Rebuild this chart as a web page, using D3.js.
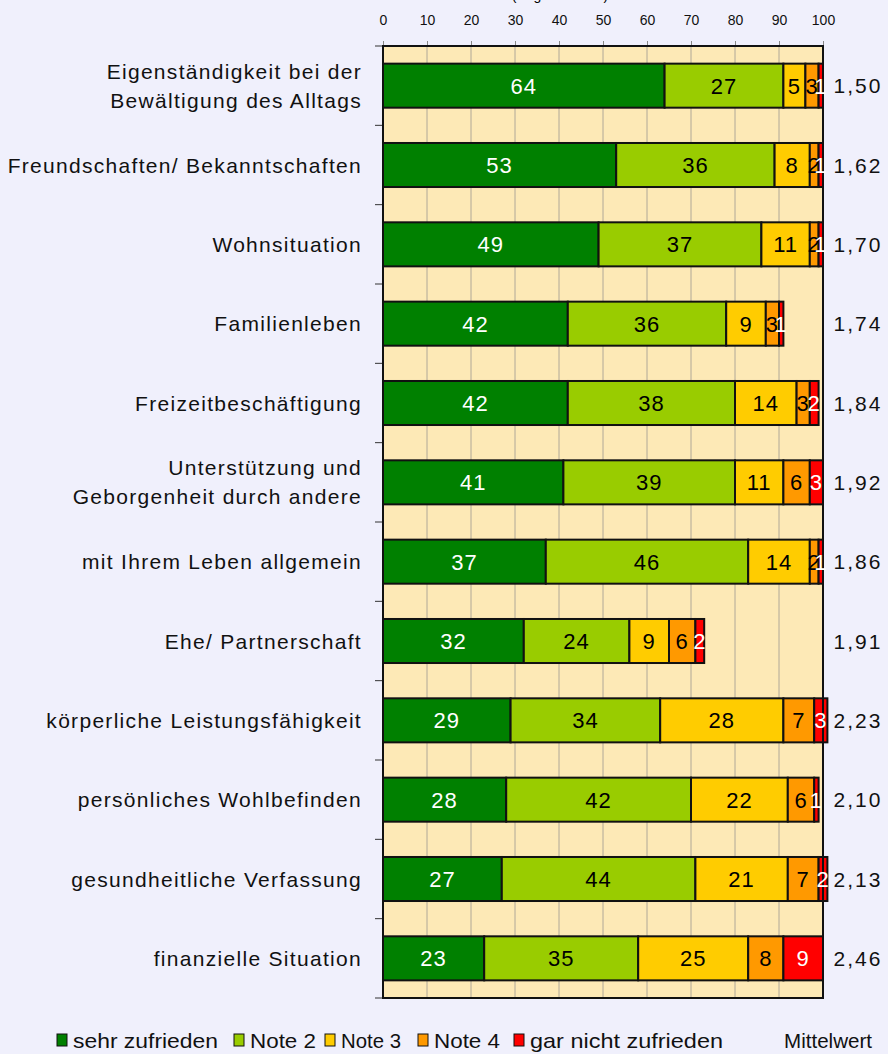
<!DOCTYPE html>
<html>
<head>
<meta charset="utf-8">
<script src="https://cdn.jsdelivr.net/npm/d3@7"></script>
<style>
  body { margin: 0; background: #f0f0fc; }
  svg { display: block; font-family: "Liberation Sans", Arial, sans-serif; }
</style>
</head>
<body>
<svg width="888" height="1054"></svg>
<script>
// data
var categories = [
  "Eigenständigkeit bei der|Bewältigung des Alltags",
  "Freundschaften/ Bekanntschaften",
  "Wohnsituation",
  "Familienleben",
  "Freizeitbeschäftigung",
  "Unterstützung und|Geborgenheit durch andere",
  "mit Ihrem Leben allgemein",
  "Ehe/ Partnerschaft",
  "körperliche Leistungsfähigkeit",
  "persönliches Wohlbefinden",
  "gesundheitliche Verfassung",
  "finanzielle Situation"
];
var sehrZufrieden = [64, 53, 49, 42, 42, 41, 37, 32, 29, 28, 27, 23];
var note2         = [27, 36, 37, 36, 38, 39, 46, 24, 34, 42, 44, 35];
var note3         = [5, 8, 11, 9, 14, 11, 14, 9, 28, 22, 21, 25];
var note4         = [3, 2, 2, 3, 3, 6, 2, 6, 7, 6, 7, 8];
var garNicht      = [1, 1, 1, 1, 2, 3, 1, 2, 3, 1, 2, 9];
var mittelwert    = ["1,50", "1,62", "1,70", "1,74", "1,84", "1,92", "1,86", "1,91", "2,23", "2,10", "2,13", "2,46"];
var seriesNames = ["sehr zufrieden", "Note 2", "Note 3", "Note 4", "gar nicht zufrieden"];
var seriesColors = ["#008000", "#99cc00", "#ffcc00", "#ff9900", "#ff0000"];
var labelColors = ["white", "black", "black", "black", "white"];
var xTicks = [0, 10, 20, 30, 40, 50, 60, 70, 80, 90, 100];

var svg = d3.select("svg");
var pLeft = 383, pRight = 823, pTop = 46, pBottom = 998;

var x = d3.scaleLinear().domain([0, 100]).range([pLeft, pRight]);
var y = d3.scaleBand().domain(d3.range(categories.length)).range([pTop, pBottom])
  .paddingInner(0.445).paddingOuter(0.2225);

var table = categories.map(function(c, i) {
  return { i: i, v: [sehrZufrieden[i], note2[i], note3[i], note4[i], garNicht[i]] };
});
var stack = d3.stack().keys([0, 1, 2, 3, 4]).value(function(d, k) { return d.v[k]; });
var layers = stack(table);

// plot background
svg.append("rect")
  .attr("x", pLeft).attr("y", pTop)
  .attr("width", pRight - pLeft).attr("height", pBottom - pTop)
  .attr("fill", "#fde9b6");

// grid
svg.append("g").selectAll("line")
  .data(xTicks.slice(1, -1))
  .enter().append("line")
  .attr("x1", d => x(d)).attr("x2", d => x(d))
  .attr("y1", pTop).attr("y2", pBottom)
  .attr("stroke", "#b0a898").attr("stroke-width", 1);

// top axis
var xAxis = svg.append("g")
  .attr("transform", "translate(0," + pTop + ")")
  .call(d3.axisTop(x).tickValues(xTicks).tickSize(5).tickPadding(16));
xAxis.select(".domain").remove();
xAxis.selectAll("line").attr("stroke", "#888");
xAxis.selectAll("text").attr("font-size", 14).attr("fill", "#111")
  .attr("font-family", "Liberation Sans, Arial, sans-serif");

// cut-off title at the very top
svg.append("text").attr("x", 560).attr("y", 0)
  .attr("text-anchor", "middle").attr("font-size", 14).text("(Angaben in %)");

// left ticks between categories
var bounds = d3.range(categories.length + 1).map(function(i) { return pTop + i * y.step(); });
svg.append("g").selectAll("line")
  .data(bounds)
  .enter().append("line")
  .attr("x1", pLeft - 8).attr("x2", pLeft)
  .attr("y1", d => d).attr("y2", d => d)
  .attr("stroke", "#333");

// bars
var segs = svg.append("g").selectAll("g")
  .data(layers)
  .enter().append("g");

function parts(layer) { return layer.map(function(d) { return { k: layer.key, d: d }; }); }

segs.selectAll("rect")
  .data(parts)
  .enter().append("rect")
  .attr("x", s => x(s.d[0]))
  .attr("y", s => y(s.d.data.i))
  .attr("width", s => x(s.d[1]) - x(s.d[0]))
  .attr("height", y.bandwidth())
  .attr("fill", s => seriesColors[s.k])
  .attr("stroke", "#111").attr("stroke-width", 2);

// frame
svg.append("rect")
  .attr("x", pLeft).attr("y", pTop)
  .attr("width", pRight - pLeft).attr("height", pBottom - pTop)
  .attr("fill", "none").attr("stroke", "#111").attr("stroke-width", 2);

// segment labels
svg.append("g").selectAll("g")
  .data(layers)
  .enter().append("g")
  .selectAll("text")
  .data(parts)
  .enter().append("text")
  .attr("x", s => (x(s.d[0]) + x(s.d[1])) / 2)
  .attr("y", s => y(s.d.data.i) + y.bandwidth() / 2)
  .attr("dy", "0.36em")
  .attr("text-anchor", "middle")
  .attr("font-size", 22)
  .attr("letter-spacing", 1)
  .attr("fill", s => labelColors[s.k])
  .text(s => s.d.data.v[s.k]);

// category labels
var catText = svg.append("g").selectAll("text")
  .data(categories)
  .enter().append("text")
  .attr("text-anchor", "end")
  .attr("font-size", 21)
  .attr("letter-spacing", 1.3)
  .attr("fill", "#111")
  .attr("transform", (d, i) => "translate(362," + (y(i) + y.bandwidth() / 2) + ")");
catText.each(function(d) {
  var lines = d.split("|");
  var t = d3.select(this);
  lines.forEach(function(l, j) {
    t.append("tspan").attr("x", 0)
      .attr("y", (j - (lines.length - 1) / 2) * 29)
      .attr("dy", "0.36em")
      .text(l);
  });
});

// Mittelwert
svg.append("g").selectAll("text")
  .data(mittelwert)
  .enter().append("text")
  .attr("x", 858)
  .attr("y", (d, i) => y(i) + y.bandwidth() / 2)
  .attr("dy", "0.36em")
  .attr("text-anchor", "middle")
  .attr("font-size", 21)
  .attr("letter-spacing", 2)
  .attr("fill", "#111")
  .text(d => d);

// legend
var legend = svg.append("g").attr("transform", "translate(0,1040)");
var legX = [57, 234, 325, 418, 514];
var legW = [145, 66, 60, 66, 193];
seriesNames.forEach(function(n, i) {
  legend.append("rect")
    .attr("x", legX[i]).attr("y", -6)
    .attr("width", 10).attr("height", 12)
    .attr("fill", seriesColors[i]).attr("stroke", "#111").attr("stroke-width", 1);
  legend.append("text")
    .attr("x", legX[i] + 16).attr("y", 0)
    .attr("dy", "0.36em")
    .attr("font-family", "Liberation Sans Narrow, Liberation Sans, sans-serif")
    .attr("font-size", 21)
    .attr("fill", "#111")
    .attr("textLength", legW[i])
    .attr("lengthAdjust", "spacingAndGlyphs")
    .text(n);
});
legend.append("text")
  .attr("x", 784).attr("y", 0).attr("dy", "0.36em")
  .attr("font-family", "Liberation Sans Narrow, Liberation Sans, sans-serif")
  .attr("font-size", 21).attr("fill", "#111")
  .attr("textLength", 88).attr("lengthAdjust", "spacingAndGlyphs")
  .text("Mittelwert");
</script>
</body>
</html>
